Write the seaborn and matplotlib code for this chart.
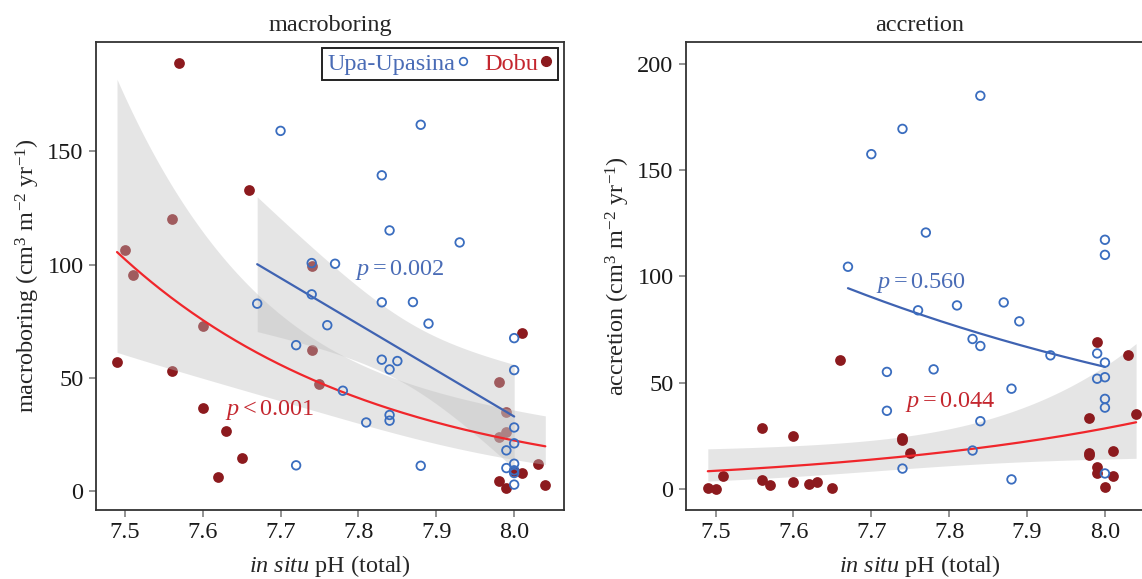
import numpy as np
import matplotlib
matplotlib.use("Agg")
import matplotlib.pyplot as plt
from matplotlib.lines import Line2D
import seaborn as sns

# ---------------- data ----------------
# macroboring panel
mb_upa_ph = [7.70, 7.88, 7.83, 7.84, 7.93, 7.77, 7.74, 7.67, 7.74, 7.76, 7.72,
             7.83, 7.87, 7.89, 7.83, 7.85, 7.84, 7.78, 7.81, 7.84, 7.84, 7.88,
             7.72, 8.00, 8.00, 8.00, 8.00, 7.99, 8.00, 7.99, 8.00, 8.00, 8.00]
mb_upa_val = [159.0, 161.7, 139.4, 115.1, 109.8, 100.4, 100.7, 82.8, 86.9, 73.3, 64.5,
              83.4, 83.5, 74.0, 58.1, 57.5, 53.8, 44.4, 30.4, 33.7, 31.2, 11.3,
              11.5, 67.6, 53.5, 28.2, 21.2, 18.1, 12.2, 10.3, 9.3, 8.1, 3.0]
mb_dobu_ph = [7.57, 7.66, 7.56, 7.50, 7.74, 7.51, 7.60, 7.49, 7.56, 7.60, 7.63,
              7.65, 7.62, 7.74, 7.75, 8.01, 7.98, 7.99, 7.99, 7.98, 8.03, 8.00,
              8.01, 7.98, 7.99, 8.04]
mb_dobu_val = [189.0, 132.8, 120.3, 106.3, 99.2, 95.3, 72.9, 57.0, 53.2, 36.7, 26.5,
               14.9, 6.2, 62.2, 47.5, 70.0, 48.1, 35.0, 26.2, 23.8, 12.2, 9.0,
               8.1, 4.5, 1.3, 3.0]

# accretion panel
ac_upa_ph = [7.74, 7.70, 7.67, 7.84, 7.77, 8.00, 8.00, 7.76, 7.72, 7.72, 7.74,
             7.81, 7.87, 7.89, 7.83, 7.84, 7.93, 7.99, 8.00, 7.99, 8.00, 7.78,
             7.88, 8.00, 8.00, 7.84, 7.83, 7.88, 8.00]
ac_upa_val = [169.4, 157.5, 104.5, 185.0, 120.6, 117.2, 110.1, 84.0, 55.0, 36.7, 9.5,
              86.3, 87.7, 78.8, 70.5, 67.2, 62.8, 63.7, 59.4, 51.8, 52.5, 56.2,
              47.1, 42.3, 38.2, 31.8, 18.0, 4.4, 7.2]
ac_dobu_ph = [7.66, 7.74, 7.74, 7.75, 7.56, 7.60, 7.51, 7.49, 7.50, 7.56, 7.57,
              7.60, 7.62, 7.63, 7.65, 7.99, 8.03, 8.04, 7.98, 7.98, 7.98, 8.01,
              7.99, 7.99, 8.01, 8.00]
ac_dobu_val = [60.8, 24.0, 22.9, 16.7, 28.5, 25.0, 5.9, 0.3, 0.0, 4.0, 1.7,
               3.0, 2.3, 3.1, 0.5, 68.9, 63.1, 35.4, 33.4, 16.9, 15.8, 17.7,
               10.3, 7.5, 6.1, 0.8]

site_labels = ["Upa-Upasina", "Dobu"]
panel_titles = ["macroboring", "accretion"]
p_labels_mb = [r"$p=0.002$", r"$p<0.001$"]
p_labels_ac = [r"$p=0.560$", r"$p=0.044$"]
x_ticks = [7.5, 7.6, 7.7, 7.8, 7.9, 8.0]

# ---------------- styling ----------------
BLUE_PT = "#3a6dbf"
BLUE_LINE = "#3f63b2"
BLUE_TXT = "#4a6cb6"
RED_PT = "#8c1a1e"
RED_LINE = "#f0262b"
RED_TXT = "#c4262e"
BAND = "#bfbfbf"

sns.set_style("ticks")
plt.rcParams["font.family"] = ["Liberation Serif", "DejaVu Serif"]
plt.rcParams["mathtext.fontset"] = "custom"
plt.rcParams["mathtext.rm"] = "Liberation Serif"
plt.rcParams["mathtext.it"] = "Liberation Serif:italic"
plt.rcParams["mathtext.bf"] = "Liberation Serif:bold"
FS = 17.5


def glm_log_fit(x, y, grid, family="gamma", q=1.96):
    """GLM with log link fitted by IRLS; Pearson dispersion for the CI"""
    x = np.asarray(x, float); y = np.asarray(y, float)
    xc = 7.8
    X = np.column_stack([np.ones_like(x), x - xc])
    b = np.array([np.log(y.mean()), 0.0])
    for _ in range(300):
        mu = np.exp(X @ b)
        z = X @ b + (y - mu) / mu
        w = np.ones_like(mu) if family == "gamma" else mu
        XtW = X.T * w
        b_new = np.linalg.solve(XtW @ X, XtW @ z)
        if np.max(np.abs(b_new - b)) < 1e-12:
            b = b_new
            break
        b = b_new
    mu = np.exp(X @ b)
    w = np.ones_like(mu) if family == "gamma" else mu
    var = mu ** 2 if family == "gamma" else mu
    phi = np.sum((y - mu) ** 2 / var) / (len(y) - 2)
    cov = phi * np.linalg.inv((X.T * w) @ X)
    G = np.column_stack([np.ones_like(grid), grid - xc])
    eta = G @ b
    se = np.sqrt(np.einsum("ij,jk,ik->i", G, cov, G))
    return np.exp(eta), np.exp(eta - q * se), np.exp(eta + q * se)


def lin_fit(x, y, grid):
    x = np.asarray(x, float); y = np.asarray(y, float)
    n = len(x)
    X = np.column_stack([np.ones_like(x), x])
    b, *_ = np.linalg.lstsq(X, y, rcond=None)
    res = y - X @ b
    s2 = np.sum(res ** 2) / (n - 2)
    cov = s2 * np.linalg.inv(X.T @ X)
    G = np.column_stack([np.ones_like(grid), grid])
    fit = G @ b
    se = np.sqrt(np.einsum("ij,jk,ik->i", G, cov, G))
    t = 2.04  # ~t(0.975, 31)
    return fit, fit - t * se, fit + t * se


fig = plt.figure(figsize=(11.42, 5.79), dpi=100)
W, H = 1142, 579
axL = fig.add_axes([96 / W, 1 - 510 / H, 468 / W, 468 / H])
axR = fig.add_axes([686 / W, 1 - 510 / H, 468 / W, 468 / H])

# ---------- left: macroboring ----------
ax = axL
sns.scatterplot(x=mb_dobu_ph, y=mb_dobu_val, ax=ax, color=RED_PT, s=60,
                linewidth=0, zorder=1)
g_red = np.linspace(min(mb_dobu_ph), max(mb_dobu_ph), 200)
f, lo, hi = glm_log_fit(mb_dobu_ph, mb_dobu_val, g_red, "gamma")
ax.fill_between(g_red, lo, hi, color=BAND, alpha=0.4, lw=0, zorder=2)
sns.lineplot(x=g_red, y=f, ax=ax, color=RED_LINE, lw=1.6, zorder=3)
g_blue = np.linspace(min(mb_upa_ph), max(mb_upa_ph), 200)
f, lo, hi = lin_fit(mb_upa_ph, mb_upa_val, g_blue)
ax.fill_between(g_blue, lo, hi, color=BAND, alpha=0.4, lw=0, zorder=2)
sns.lineplot(x=g_blue, y=f, ax=ax, color=BLUE_LINE, lw=1.6, zorder=3)
sns.scatterplot(x=mb_upa_ph, y=mb_upa_val, ax=ax, facecolor="none",
                edgecolor=BLUE_PT, s=38, linewidth=1.3, zorder=4)
ax.text(7.796, 97.5, p_labels_mb[0], color=BLUE_TXT, fontsize=FS, va="center", ha="left")
ax.text(7.629, 36, p_labels_mb[1], color=RED_TXT, fontsize=FS, va="center", ha="left")
ax.set_xlim(7.463, 8.064)
ax.set_ylim(-8.2, 198.2)
ax.set_yticks([0, 50, 100, 150])
ax.set_ylabel(r"macroboring (cm$^3$ m$^{-2}$ yr$^{-1}$)", fontsize=FS, labelpad=4)

handles = [Line2D([], [], ls="none", marker="o", markersize=5.5, markerfacecolor="none",
                  markeredgecolor=BLUE_PT, markeredgewidth=1.2),
           Line2D([], [], ls="none", marker="o", markersize=7, markerfacecolor=RED_PT,
                  markeredgecolor=RED_PT)]
leg = ax.legend(handles, site_labels, loc="upper right", ncol=2, markerfirst=False,
                fontsize=FS, labelcolor=[BLUE_TXT, RED_TXT], frameon=True, fancybox=False,
                edgecolor="#222222", framealpha=1, borderpad=0.2, handletextpad=0.0,
                columnspacing=0.6, handlelength=0.6, borderaxespad=0.25)
leg.get_frame().set_linewidth(1.4)

# ---------- right: accretion ----------
ax = axR
g_red = np.linspace(min(ac_dobu_ph), max(ac_dobu_ph), 200)
f, lo, hi = glm_log_fit(ac_dobu_ph, ac_dobu_val, g_red, "gamma", q=2.06)
ax.fill_between(g_red, lo, hi, color=BAND, alpha=0.4, lw=0, zorder=1)
sns.scatterplot(x=ac_dobu_ph, y=ac_dobu_val, ax=ax, color=RED_PT, s=60,
                linewidth=0, zorder=2)
sns.lineplot(x=g_red, y=f, ax=ax, color=RED_LINE, lw=1.6, zorder=3)
g_blue = np.linspace(min(ac_upa_ph), max(ac_upa_ph), 200)
f, lo, hi = glm_log_fit(ac_upa_ph, ac_upa_val, g_blue, "gamma")
sns.lineplot(x=g_blue, y=f, ax=ax, color=BLUE_LINE, lw=1.6, zorder=3)
sns.scatterplot(x=ac_upa_ph, y=ac_upa_val, ax=ax, facecolor="none",
                edgecolor=BLUE_PT, s=38, linewidth=1.3, zorder=4)
ax.text(7.706, 97, p_labels_ac[0], color=BLUE_TXT, fontsize=FS, va="center", ha="left")
ax.text(7.7435, 41, p_labels_ac[1], color=RED_TXT, fontsize=FS, va="center", ha="left")
ax.set_xlim(7.462, 8.063)
ax.set_ylim(-10, 210.3)
ax.set_yticks([0, 50, 100, 150, 200])
ax.set_ylabel(r"accretion (cm$^3$ m$^{-2}$ yr$^{-1}$)", fontsize=FS, labelpad=4)

for ax, title in zip([axL, axR], panel_titles):
    ax.set_title(title, fontsize=FS, pad=8)
    ax.set_xticks(x_ticks)
    ax.set_xticklabels([f"{t:.1f}" for t in x_ticks])
    ax.set_xlabel(r"$\it{in\ situ}$ pH (total)", fontsize=FS, labelpad=7)
    ax.tick_params(axis="both", labelsize=FS, length=5, width=1.3, color="#8a8a8a",
                   labelcolor="#1a1a1a", pad=4)
    for sp in ax.spines.values():
        sp.set_color("#333333")
        sp.set_linewidth(1.3)

fig.savefig("out.png", dpi=100)
